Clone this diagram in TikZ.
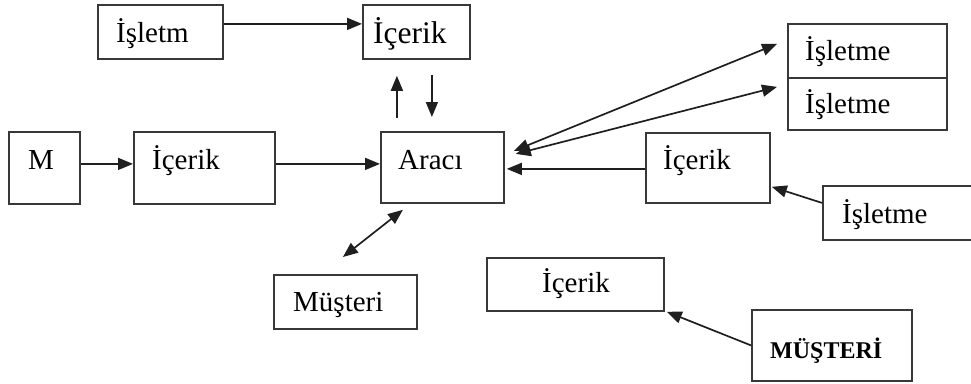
\documentclass[tikz,border=0pt]{standalone}
\usepackage{fontspec}
\setmainfont{Liberation Serif}
\usetikzlibrary{arrows.meta}
\begin{document}
\begin{tikzpicture}[x=1pt,y=-1pt,
  box/.style={draw=black!78, line width=1.8pt, rectangle, inner sep=0pt, anchor=north west},
  txt/.style={anchor=base west, inner sep=0pt, font=\fontsize{29}{32}\selectfont},
  btxt/.style={anchor=base west, inner sep=0pt, font=\fontsize{24}{28}\selectfont\bfseries},
  tip/.style={-{Triangle[length=15pt,width=12pt]}},
  arr/.style={line width=1.7pt, black!88, tip},
  darr/.style={line width=1.7pt, black!88, {Triangle[length=15pt,width=12pt]}-{Triangle[length=15pt,width=12pt]}}]
\useasboundingbox (0,0) rectangle (971,383);
% boxes
\node[box, minimum width=125pt, minimum height=54pt] (b1) at (97,4) {};
\node[box, minimum width=107pt, minimum height=54pt] (b2) at (362,4) {};
\node[box, minimum width=159pt, minimum height=54pt] (b3) at (787,23) {};
\node[box, minimum width=159pt, minimum height=52pt] (b4) at (787,77) {};
\node[box, minimum width=71pt, minimum height=72pt] (b5) at (8,131) {};
\node[box, minimum width=141pt, minimum height=72pt] (b6) at (133,131) {};
\node[box, minimum width=123pt, minimum height=71pt] (b7) at (380,131) {};
\node[box, minimum width=124pt, minimum height=70pt] (b8) at (645,132) {};
\node[box, minimum width=160pt, minimum height=54pt] (b9) at (822,185) {};
\node[box, minimum width=143pt, minimum height=54pt] (b10) at (273,274) {};
\node[box, minimum width=177pt, minimum height=53pt] (b11) at (486,257) {};
\node[box, minimum width=160pt, minimum height=71pt] (b12) at (751,309) {};
% texts
\node[txt] (t1) at (116,42) {İşletm};
\node[txt, font=\fontsize{31.5}{34}\selectfont] (t2) at (373,43) {İçerik};
\node[txt] (t3) at (805,60) {İşletme};
\node[txt] (t4) at (805,113) {İşletme};
\node[txt] (t5) at (28,169) {M};
\node[txt] (t6) at (152,169) {İçerik};
\node[txt] (t7) at (398,169) {Aracı};
\node[txt] (t8) at (663,169) {İçerik};
\node[txt] (t9) at (842,223) {İşletme};
\node[txt] (t10) at (293,311) {Müşteri};
\node[txt] (t11) at (542,292) {İçerik};
\node[btxt] (t12) at (770,358) {MÜŞTERİ};
% connectors
\draw[arr] ([yshift=8pt]b1.east) -- ([yshift=8pt]b2.west);
\draw[arr, shorten <=13pt, shorten >=16pt] ([xshift=-45.5pt]b7.north) -- ([xshift=-19.5pt]b2.south);
\draw[arr, shorten <=15pt, shorten >=14pt] ([xshift=15.5pt]b2.south) -- ([xshift=-10.5pt]b7.north);
\draw[arr] ([yshift=4pt]b5.east) -- ([yshift=4pt]b6.west);
\draw[arr] ([yshift=4pt]b6.east) -- ([yshift=3.5pt]b7.east -| b7.west);
\draw[arr, shorten >=2pt] ([yshift=-1pt]b8.west) -- ([yshift=-1.5pt]b7.east);
\draw[darr] ([xshift=9pt,yshift=16.5pt]b7.east) -- ([xshift=-10pt,yshift=7pt]b3.west);
\draw[darr] ([xshift=11pt,yshift=13.5pt]b7.east) -- ([xshift=-10pt,yshift=17pt]b4.west);
\draw[darr] ([xshift=-39.5pt,yshift=-6pt]b7.south) -- ([xshift=-2.5pt,yshift=17pt]b10.north);
\draw[arr] ([yshift=10pt]b9.west) -- ([xshift=1pt,yshift=17pt]b8.south east);
\draw[arr] (b12.west) -- ([xshift=2pt]b11.south east);
\end{tikzpicture}
\end{document}
